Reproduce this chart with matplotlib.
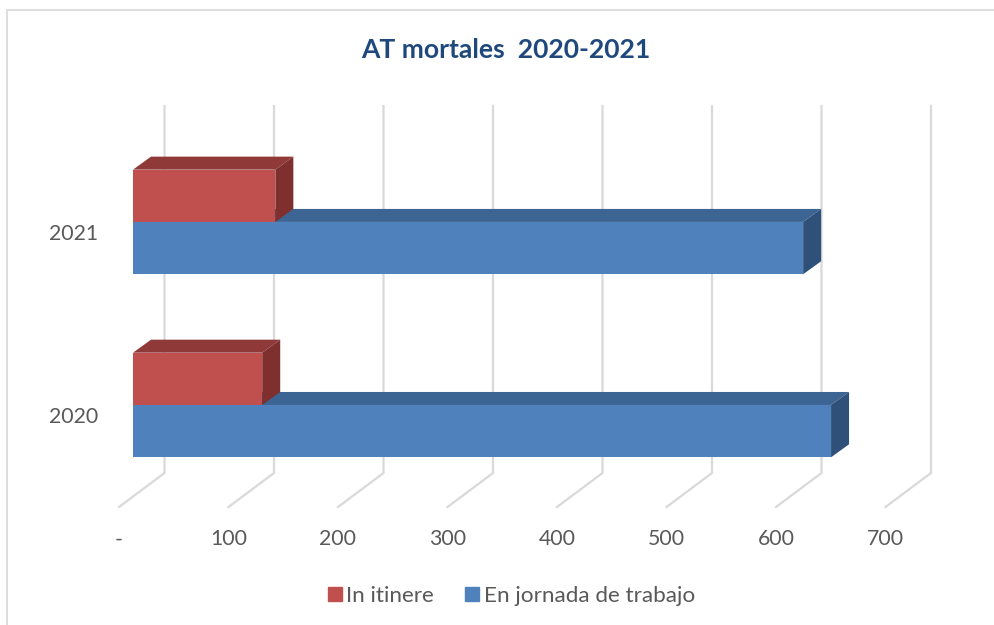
import matplotlib
matplotlib.use("Agg")
import matplotlib.pyplot as plt
from matplotlib.patches import Polygon, Patch, Rectangle

plt.rcParams['font.family'] = ['Lato', 'DejaVu Sans']

years = ["2020", "2021"]
en_jornada = [637.5, 612]
in_itinere = [118, 130]
x_ticks = [0, 100, 200, 300, 400, 500, 600, 700]
x_labels = ["-", "100", "200", "300", "400", "500", "600", "700"]

W, H = 994, 625
RED, RED_TOP, RED_SIDE = "#C0504D", "#8F3A38", "#7F302E"
BLUE, BLUE_TOP, BLUE_SIDE = "#4F81BD", "#3D6594", "#2F5078"
GRID = "#D9D9D9"
TEXT = "#595959"

fig = plt.figure(figsize=(W / 100, H / 100), dpi=100)
# axes = front plane of the 3d box, pixels measured on the reference
ax = fig.add_axes([119 / W, 1 - 507 / H, 766.5 / W, 367 / H])
ax.set_xlim(0, 700)
ax.set_ylim(-0.5, 1.505)
px_x = 700 / 766.5
px_y = 2.005 / 367

floor_dx, floor_dy = 45.5 * px_x, 34 * px_y
bar_dx, bar_dy = 14 * px_x, 10.5 * px_y   # bars sit a little inside the floor
depth_x, depth_y = 18 * px_x, 13 * px_y
bar_h = 52.3 * px_y


def box(y, value, height, front, top, side):
    ax.barh(y, value, height=height, left=bar_dx, color=front, edgecolor="none", zorder=3)
    x1 = bar_dx + value
    y0, y1 = y - height / 2, y + height / 2
    ax.add_patch(Polygon([(bar_dx, y1), (x1, y1), (x1 + depth_x, y1 + depth_y),
                          (bar_dx + depth_x, y1 + depth_y)], color=top, lw=0, zorder=3))
    ax.add_patch(Polygon([(x1, y0), (x1, y1), (x1 + depth_x, y1 + depth_y),
                          (x1 + depth_x, y0 + depth_y)], color=side, lw=0, zorder=3))


# gridlines: floor part then back wall
for t in x_ticks:
    ax.plot([t, t + floor_dx, t + floor_dx], [-0.5, -0.5 + floor_dy, 1.505 + floor_dy],
            color=GRID, lw=1.6, zorder=1, clip_on=False, solid_joinstyle="miter")

for i in range(len(years)):
    y = i + bar_dy
    box(y - bar_h / 2, en_jornada[i], bar_h, BLUE, BLUE_TOP, BLUE_SIDE)
    box(y + bar_h / 2, in_itinere[i], bar_h, RED, RED_TOP, RED_SIDE)

for s in ax.spines.values():
    s.set_visible(False)
ax.patch.set_alpha(0)
ax.set_xticks(x_ticks, x_labels)
ax.set_yticks(range(len(years)), years)
ax.tick_params(axis="x", length=0, pad=16, labelsize=15.3, labelcolor=TEXT)
ax.tick_params(axis="y", length=0, pad=15, labelsize=15.3, labelcolor=TEXT)

fig.text(506 / W, 1 - 50 / H, "AT mortales  2020-2021", color="#1F497D", fontsize=19.1,
         fontweight="bold", ha="center", va="center")

handles = [Patch(color=RED, label="In itinere"), Patch(color=BLUE, label="En jornada de trabajo")]
fig.legend(handles=handles, loc="center", bbox_to_anchor=(511.5 / W, 1 - 596 / H), ncol=2, frameon=False,
           fontsize=16.2, labelcolor=TEXT, handlelength=0.62, handleheight=0.62, handletextpad=0.22,
           columnspacing=1.38)

# chart frame
fig.add_artist(Rectangle((7 / W, 1 - 640 / H), 1000 / W, 630 / H, transform=fig.transFigure,
                         fill=False, edgecolor=GRID, lw=1.2))

fig.savefig("out.png", dpi=100)
